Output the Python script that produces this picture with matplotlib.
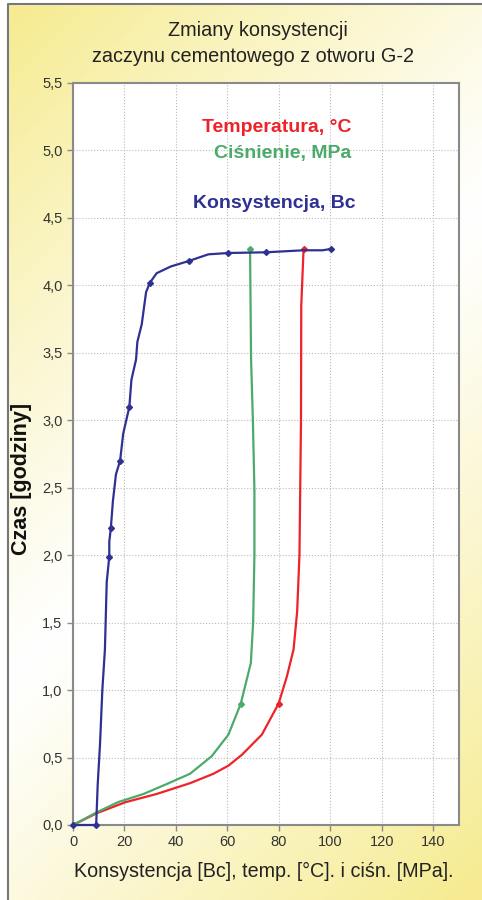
import numpy as np
import matplotlib.pyplot as plt
from matplotlib.ticker import FuncFormatter, MultipleLocator

# Konsystencja [Bc] vs czas [h]
kons_x = [0, 9, 9.6, 10.5, 11.4, 12.4, 13.1, 14.1, 14.1, 14.7, 15.5, 16.7, 18.3, 19.5,
          21.9, 22.7, 24.5, 25.0, 26.7, 28.4, 29.9, 32.5, 38.0, 44.9, 52.6, 60.4,
          74.9, 89.6, 97.0, 100.2]
kons_y = [0, 0, 0.3, 0.6, 1.0, 1.3, 1.8, 1.99, 2.1, 2.2, 2.4, 2.6, 2.7, 2.9,
          3.1, 3.3, 3.45, 3.58, 3.71, 3.95, 4.02, 4.09, 4.14, 4.18, 4.23, 4.24,
          4.245, 4.26, 4.26, 4.27]
kons_marks = [0, 1, 7, 9, 12, 14, 20, 23, 25, 26, 29]

# Ciśnienie [MPa]
cisn_x = [0, 9.2, 17.6, 27.4, 36.0, 45.5, 53.9, 60.4, 65.2, 69.1, 70.0, 70.5, 70.5,
          69.9, 69.2, 68.8]
cisn_y = [0, 0.094, 0.17, 0.23, 0.30, 0.38, 0.51, 0.67, 0.90, 1.20, 1.5, 2.0, 2.48,
          3.0, 3.45, 4.27]
cisn_marks = [0, 8, 15]

# Temperatura [°C]
temp_x = [0, 9.2, 20.2, 32.5, 45.5, 54.6, 60.4, 65.6, 73.4, 79.9, 83.1, 85.7, 87.1,
          88.0, 88.6, 88.7, 89.6]
temp_y = [0, 0.087, 0.168, 0.23, 0.31, 0.38, 0.44, 0.52, 0.67, 0.90, 1.10, 1.30, 1.58,
          2.0, 3.0, 3.85, 4.27]
temp_marks = [0, 9, 16]

blue = '#2e3192'
green = '#4aab6a'
red = '#ee2229'

plt.rcParams['font.family'] = ['Liberation Sans', 'DejaVu Sans']

W, H = 482, 900
fig = plt.figure(figsize=(W / 100, H / 100), dpi=100)

# tło z gradientem
bg = fig.add_axes([0, 0, 1, 1], zorder=0)
xx, yy = np.meshgrid(np.linspace(0, 1, 200), np.linspace(0, 1, 400))
u = (xx * W + yy * H) / (W + H)
t = np.clip(np.abs(u - 0.5) * 2.1, 0, 1) ** 1.1
white = np.array([1.0, 1.0, 1.0])
yellow = np.array([0.965, 0.925, 0.58])
img = white[None, None, :] * (1 - t[..., None]) + yellow[None, None, :] * t[..., None]
bg.imshow(img, extent=[0, W, H, 0], aspect='auto')
bg.plot([8, 8, W], [H, 4, 4], color='#777777', lw=1.5)
bg.fill_between([0, W], 0, 4, color='white')
bg.fill_betweenx([0, H], 0, 8, color='white')
bg.set_xlim(0, W)
bg.set_ylim(H, 0)
bg.axis('off')

ax = fig.add_axes([73 / W, (H - 825) / H, (459 - 73) / W, (825 - 83) / H], zorder=1)
ax.set_facecolor('white')

ax.plot(temp_x, temp_y, color=red, lw=1.6, marker='D', ms=3, markevery=temp_marks, zorder=3)
ax.plot(cisn_x, cisn_y, color=green, lw=1.6, marker='D', ms=3, markevery=cisn_marks, zorder=3)
ax.plot(kons_x, kons_y, color=blue, lw=1.6, marker='D', ms=3, markevery=kons_marks, zorder=4,
        clip_on=False)

ax.set_xlim(0, 150)
ax.set_ylim(0, 5.5)
ax.yaxis.set_major_locator(MultipleLocator(0.5))
ax.yaxis.set_major_formatter(FuncFormatter(lambda v, p: f'{v:.1f}'.replace('.', ',')))
ax.set_xticks(range(0, 141, 20))
ax.grid(True, color='#bbbbbb', ls=':', lw=0.8)
ax.set_axisbelow(True)
for s in ax.spines.values():
    s.set_color('#8a8a8a')
    s.set_linewidth(1.5)
ax.tick_params(colors='#8a8a8a', labelcolor='#333333', labelsize=10.5, length=4, width=1)

fig.text(264 / W, 1 - 871 / H, 'Konsystencja [Bc], temp. [°C]. i ciśn. [MPa].', fontsize=14.2,
         color='#222222', ha='center', va='center')
fig.text(22 / W, 1 - 479 / H, 'Czas [godziny]', fontsize=15.5, fontweight='bold',
         color='#111111', ha='center', va='center', rotation=90)

ax.text(79.3, 5.17, 'Temperatura, °C', color=red, fontsize=14, fontweight='bold',
        ha='center', va='center')
ax.text(81.3, 4.98, 'Ciśnienie, MPa', color=green, fontsize=14, fontweight='bold',
        ha='center', va='center')
ax.text(78.2, 4.61, 'Konsystencja, Bc', color=blue, fontsize=14, fontweight='bold',
        ha='center', va='center')

fig.text(258 / W, 1 - 30 / H, 'Zmiany konsystencji', fontsize=14.3, color='#222222',
         ha='center', va='center')
fig.text(253 / W, 1 - 57 / H, 'zaczynu cementowego z otworu G-2', fontsize=14.3,
         color='#222222', ha='center', va='center')

fig.savefig('out.png', dpi=100)
